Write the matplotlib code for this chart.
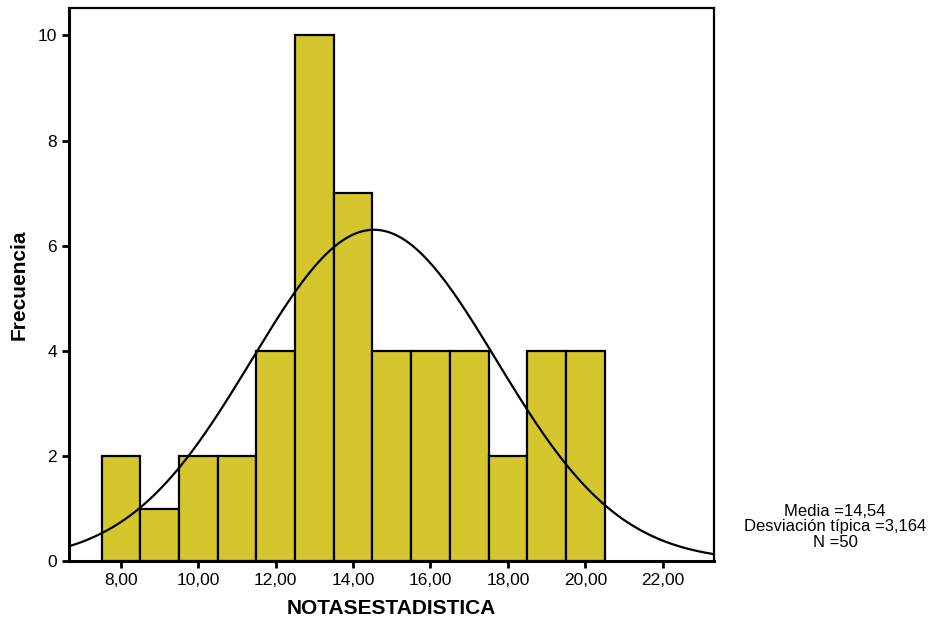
import numpy as np
import matplotlib.pyplot as plt

plt.rcParams['font.family'] = ['Liberation Sans', 'DejaVu Sans']

# Notas (centro de cada intervalo) y frecuencias
notas = [8, 9, 10, 11, 12, 13, 14, 15, 16, 17, 18, 19, 20]
frecuencias = [2, 1, 2, 2, 4, 10, 7, 4, 4, 4, 2, 4, 4]
xticks = [8, 10, 12, 14, 16, 18, 20, 22]
yticks = [0, 2, 4, 6, 8, 10]
media = 14.54
desv = 3.164
n = 50

fig = plt.figure(figsize=(9.33, 6.27), dpi=100)
ax = fig.add_axes([0.074, 0.105, 0.691, 0.882])

ax.bar(notas, frecuencias, width=1.0, color='#D6C62E', edgecolor='black', linewidth=1.6, zorder=2)

# Curva normal con la media y desviación típica
xs = np.linspace(6.66, 23.32, 400)
ys = n * 1.0 * np.exp(-0.5 * ((xs - media) / desv) ** 2) / (desv * np.sqrt(2 * np.pi))
ax.plot(xs, ys, color='black', linewidth=1.6, zorder=3)

ax.set_xlim(6.66, 23.32)
ax.set_ylim(0, 10.52)
ax.set_xticks(xticks)
ax.set_xticklabels([f'{t:.2f}'.replace('.', ',') for t in xticks])
ax.set_yticks(yticks)
ax.tick_params(direction='out', length=5, width=2, labelsize=12.5)
for s in ax.spines.values():
    s.set_linewidth(1.6)
ax.spines['left'].set_linewidth(2.2)
ax.spines['bottom'].set_linewidth(2.2)

ax.set_xlabel('NOTASESTADISTICA', fontsize=15, fontweight='bold', labelpad=8)
ax.set_ylabel('Frecuencia', fontsize=15, fontweight='bold')
ax.yaxis.set_label_coords(-0.062, 0.5)

fig.text(0.895, 0.16, f'Media ={media:.2f}\nDesviación típica ={desv:.3f}\nN ={n}'.replace('.', ','),
         ha='center', va='center', fontsize=12, linespacing=1.05)

fig.savefig('out.png', dpi=100)
